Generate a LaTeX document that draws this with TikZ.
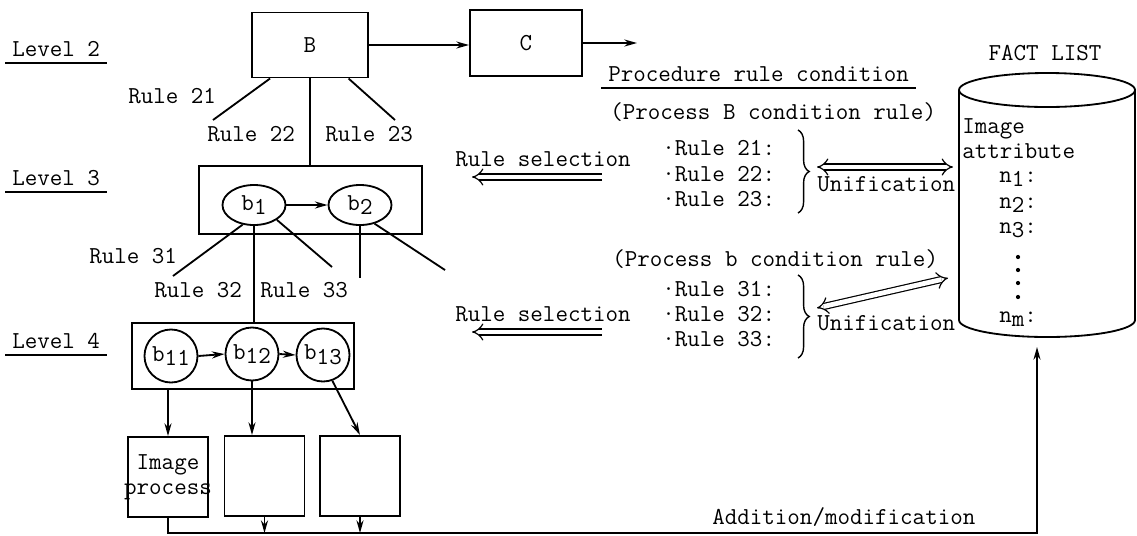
\documentclass[tikz,border=0pt]{standalone}
\usetikzlibrary{shapes.geometric, arrows.meta, decorations.pathreplacing}
\newcommand{\lowsub}[1]{\raisebox{-0.45ex}{#1}}
\tikzstyle{block} = [rectangle, draw=black, line width=1.4pt, inner sep=0pt]
\tikzstyle{state} = [ellipse, draw=black, line width=1.3pt, inner sep=0pt]
\tikzstyle{substate} = [circle, draw=black, line width=1.3pt, inner sep=0pt, minimum size=1.325cm]
\tikzstyle{txt} = [anchor=base west, inner sep=0pt]
\tikzstyle{heading} = [anchor=base west, inner sep=5pt, text depth=0pt]
\tikzstyle{link} = [line width=1.3pt]
\tikzstyle{arrow} = [line width=1.3pt,-{Stealth[length=9pt,width=5pt]}]
\tikzstyle{dblarrow} = [double, double distance=3.4pt, line width=0.85pt, -{Implies[scale=2]}]
\tikzstyle{bracket} = [line width=1pt, decorate, decoration={brace, amplitude=0.28cm}]

\begin{document}
\begin{tikzpicture}[x=0.025cm, y=-0.025cm, font=\ttfamily\fontsize{17.3}{17.7}\selectfont]
    \useasboundingbox (0,0) rectangle (1137,535);

    % Levels
    \node (lv2) [heading] at (5,56) {Level 2};
    \node (lv3) [heading] at (5,185) {Level 3};
    \node (lv4) [heading] at (5,348) {Level 4};
    \draw [link] (lv2.south west) -- (lv2.south east);
    \draw [link] (lv3.south west) -- (lv3.south east);
    \draw [link] (lv4.south west) -- (lv4.south east);

    % Nodes
    \node (B) [block, minimum width=2.9cm, minimum height=1.625cm] at (310,45) {B};
    \node (C) [block, minimum width=2.8cm, minimum height=1.65cm] at (526,43) {C};
    \coordinate (Cout) at (637,43);

    \node (lvthree) [block, minimum width=5.575cm, minimum height=1.7cm] at (310.5,200) {};
    \node (b1) [state, minimum width=1.575cm, minimum height=1cm] at (254,205) {b\lowsub{1}};
    \node (b2) [state, minimum width=1.575cm, minimum height=1cm] at (360,205) {b\lowsub{2}};

    \node (lvfour) [block, minimum width=5.55cm, minimum height=1.65cm] at (243,356) {};
    \node (b11) [substate] at (171,356) {b\lowsub{11}};
    \node (b12) [substate] at (252,354) {b\lowsub{12}};
    \node (b13) [substate] at (323,355) {b\lowsub{13}};

    \node (box1) [block, minimum size=2cm, align=center] at (168,477) {Image\\\makebox[0pt]{process}};
    \node (box2) [block, minimum size=2cm] at (264.5,476) {};
    \node (box3) [block, minimum size=2cm] at (360,476) {};

    % free ends of the rule branches
    \coordinate (r21) at (213,120);
    \coordinate (r23) at (395,120);
    \coordinate (r31) at (173,276);
    \coordinate (r33) at (332,267);
    \coordinate (b2a) at (360,278);
    \coordinate (b2b) at (445,270);

    \node (rule21) [txt] at (128,103) {Rule 21};
    \node (rule22) [txt] at (207,141) {Rule 22};
    \node (rule23) [txt] at (325,141) {Rule 23};
    \node (rule31) [txt] at (89,263) {Rule 31};
    \node (rule32) [txt] at (154,297) {Rule 32};
    \node (rule33) [txt] at (260,297) {Rule 33};

    % Condition rules
    \node (proc) [heading] at (601,81) {Procedure rule condition};
    \draw [link] (proc.south west) -- (proc.south east);
    \node (condB) [txt] at (610,119) {(Process B condition rule)};
    \node (rB1) [txt] at (662,155) {·Rule 21:};
    \node (rB2) [txt] at (662,181) {·Rule 22:};
    \node (rB3) [txt] at (662,206) {·Rule 23:};
    \node (condb) [txt] at (612,266) {(Process b condition rule)};
    \node (rb1) [txt] at (662,296) {·Rule 31:};
    \node (rb2) [txt] at (662,321) {·Rule 32:};
    \node (rb3) [txt] at (662,346) {·Rule 33:};
    \draw [bracket] (798,130) -- (798,213);
    \draw [bracket] (798,275) -- (798,358);

    \node (sel1) [txt] at (455,166) {Rule selection};
    \node (sel2) [txt] at (455,321) {Rule selection};
    \coordinate (sel1a) at (602,177);
    \coordinate (sel1b) at (472,177);
    \coordinate (sel2a) at (602,332);
    \coordinate (sel2b) at (472,332);

    \node (uni1) [txt] at (817,191) {Unification};
    \node (uni2) [txt] at (817,330) {Unification};
    \coordinate (uni1a) at (817,167);
    \coordinate (uni1b) at (953,167);
    \coordinate (uni2a) at (817,308);
    \coordinate (uni2b) at (948,278);

    % Fact list
    \node (facttitle) [anchor=base, inner sep=0pt] at (1045,60) {FACT LIST};
    \draw [link] (959,90) arc[start angle=180, end angle=-180, x radius=2.2cm, y radius=0.425cm];
    \draw [link] (959,90) -- (959,320) arc[start angle=180, end angle=360, x radius=2.2cm, y radius=0.425cm] -- (1135,90);
    \node (fimg) [txt] at (962,133) {Image};
    \node (fattr) [txt] at (962,158) {attribute};
    \node (fn1) [txt] at (999,182) {n\lowsub{1}:};
    \node (fn2) [txt] at (999,208) {n\lowsub{2}:};
    \node (fn3) [txt] at (999,233) {n\lowsub{3}:};
    \node (fnm) [txt] at (999,322) {n\lowsub{m}:};
    \fill (1018,257) circle[radius=1.5pt];
    \fill (1018,270) circle[radius=1.5pt];
    \fill (1018,283) circle[radius=1.5pt];
    \fill (1018,297) circle[radius=1.5pt];
    \coordinate (factbase) at (1037,347);
    \coordinate (busR) at (1037,533);

    \node (addmod) [txt] at (712,524) {Addition/modification};

    % Arrows
    \draw [arrow] (B.east) -- (B.east -| C.west);
    \draw [arrow] (C.east) -- (C.east -| Cout);
    \draw [link] (B.220) -- (r21);
    \draw [link] (B.south) -- (B.south |- lvthree.north);
    \draw [link] (B.319) -- (r23);

    \draw [arrow] (b1.east) -- (b2.west);
    \draw [link] (b1.240) -- (r31);
    \draw [link] (b1.south) -- (b1.south |- lvfour.north);
    \draw [link] (b1.327) -- (r33);
    \draw [link] (b2.south) -- (b2a);
    \draw [link] (b2.308) -- (b2b);

    \draw [arrow] (b11.east) -- (b12.west);
    \draw [arrow] (b12.east) -- (b13.west);
    \draw [arrow] (box1.north |- lvfour.south) -- (box1.north);
    \draw [arrow] (b12.south) -- (b12.south |- box2.north);
    \draw [arrow] (b13.290) -- (box3.north);

    \draw [arrow] (box1.south) -- (box1.south |- busR) -- (busR) -- (factbase);
    \draw [arrow] (box2.south) -- (box2.south |- busR);
    \draw [arrow] (box3.south) -- (box3.south |- busR);

    \draw [dblarrow] (sel1a) -- (sel1b);
    \draw [dblarrow] (sel2a) -- (sel2b);
    \draw [dblarrow, {Implies[scale=2]}-{Implies[scale=2]}] (uni1a) -- (uni1b);
    \draw [dblarrow, {Implies[scale=2]}-{Implies[scale=2]}] (uni2a) -- (uni2b);
\end{tikzpicture}
\end{document}
